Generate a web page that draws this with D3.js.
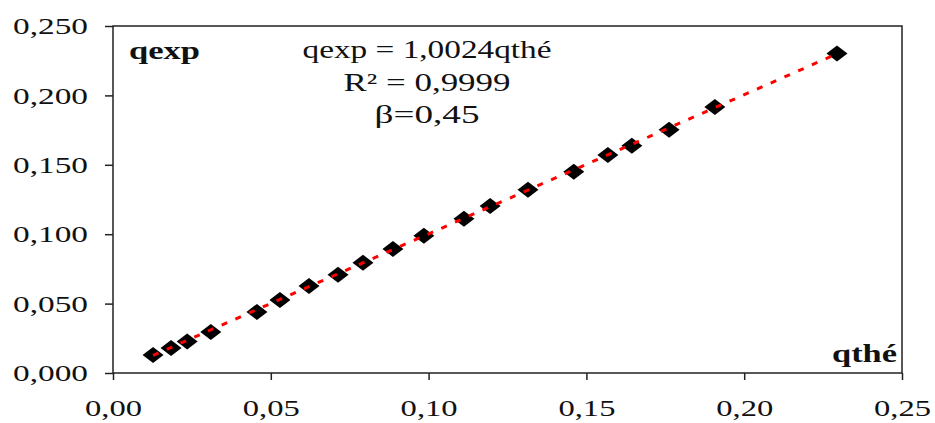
<!DOCTYPE html>
<html>
<head>
<meta charset="utf-8">
<script src="https://cdn.jsdelivr.net/npm/d3@7"></script>
<style>
  body { margin: 0; background: #fff; }
  svg text { font-family: "Liberation Serif", "Times New Roman", serif; fill: #111; }
</style>
</head>
<body>
<svg id="chart"></svg>
<script>
const qthe = [0.0127, 0.0184, 0.0235, 0.0310, 0.0456, 0.0529, 0.0621, 0.0713, 0.0792, 0.0887,
              0.0985, 0.1112, 0.1195, 0.1315, 0.1460, 0.1568, 0.1644, 0.1762, 0.1907, 0.2294];
const qexp = [0.0130, 0.0180, 0.0227, 0.0296, 0.0440, 0.0526, 0.0627, 0.0707, 0.0794, 0.0894,
              0.0988, 0.1111, 0.1204, 0.1320, 0.1450, 0.1570, 0.1637, 0.1752, 0.1917, 0.2302];
const slope = 1.0024;

const xTicks = [0, 0.05, 0.10, 0.15, 0.20, 0.25];
const xTickLabels = ['0,00', '0,05', '0,10', '0,15', '0,20', '0,25'];
const yTicks = [0, 0.05, 0.10, 0.15, 0.20, 0.25];
const yTickLabels = ['0,000', '0,050', '0,100', '0,150', '0,200', '0,250'];
const notes = ['qexp = 1,0024qthé', 'R\u00B2 = 0,9999', '\u03B2=0,45'];

const width = 935;
const height = 423;
const margin = {top: 26, right: 33, bottom: 50, left: 113};
const w = width - margin.left - margin.right;
const h = height - margin.top - margin.bottom;

const x = d3.scaleLinear().domain([0, 0.25]).range([0, w]);
const y = d3.scaleLinear().domain([0, 0.25]).range([h, 0]);

const svg = d3.select('#chart')
    .attr('width', width)
    .attr('height', height);

const chart = svg.append('g')
    .attr('transform', `translate(${margin.left},${margin.top})`);

// frame round the plot area
chart.append('rect')
    .attr('width', w)
    .attr('height', h)
    .attr('fill', 'none')
    .attr('stroke', '#222')
    .attr('stroke-width', 1.5);

const yAxis = d3.axisLeft(y)
    .tickValues(yTicks)
    .tickFormat((d, i) => yTickLabels[i])
    .tickSize(8)
    .tickPadding(17);

const xAxis = d3.axisBottom(x)
    .tickValues(xTicks)
    .tickFormat((d, i) => xTickLabels[i])
    .tickSize(7)
    .tickPadding(19);

function styleAxis(g, labelWidth) {
  g.attr('font-family', null).attr('font-size', null);
  g.select('.domain').remove();
  g.selectAll('.tick line').attr('stroke', '#222').attr('stroke-width', 1.5);
  g.selectAll('.tick text')
      .style('font-size', '24px')
      .attr('fill', '#111')
      .attr('textLength', labelWidth)
      .attr('lengthAdjust', 'spacingAndGlyphs');
}

chart.append('g')
    .attr('class', 'y axis')
    .call(yAxis)
    .call(g => styleAxis(g, 75));

chart.append('g')
    .attr('class', 'x axis')
    .attr('transform', `translate(0,${h})`)
    .call(xAxis)
    .call(g => styleAxis(g, 57));

// markers
const points = qthe.map((d, i) => ({x: d, y: qexp[i]}));

chart.selectAll('.dot')
    .data(points)
  .enter().append('path')
    .attr('class', 'dot')
    .attr('d', 'M0,-8L10.5,0L0,8L-10.5,0Z')
    .attr('transform', d => `translate(${x(d.x)},${y(d.y)})`)
    .attr('fill', '#000');

// linear trend line through the origin
const xr = d3.extent(qthe);
const line = d3.line()
    .x(d => x(d))
    .y(d => y(slope * d));

chart.append('path')
    .datum(xr)
    .attr('d', line)
    .attr('fill', 'none')
    .attr('stroke', '#ff0000')
    .attr('stroke-width', 3)
    .attr('stroke-dasharray', '6,9');

// axis titles
chart.append('text')
    .attr('x', 129 - margin.left)
    .attr('y', 59 - margin.top)
    .style('font-size', '26px')
    .style('font-weight', 'bold')
    .attr('textLength', 71)
    .attr('lengthAdjust', 'spacingAndGlyphs')
    .text('qexp');

chart.append('text')
    .attr('x', 832 - margin.left)
    .attr('y', 362 - margin.top)
    .style('font-size', '26px')
    .style('font-weight', 'bold')
    .attr('textLength', 65)
    .attr('lengthAdjust', 'spacingAndGlyphs')
    .text('qthé');

// regression notes, centred as one block
const noteLayout = [
  {y: 58, len: 249},
  {y: 91, len: 167},
  {y: 123, len: 105}
];

chart.selectAll('.note')
    .data(notes)
  .enter().append('text')
    .attr('class', 'note')
    .attr('x', 427 - margin.left)
    .attr('y', (d, i) => noteLayout[i].y - margin.top)
    .attr('text-anchor', 'middle')
    .style('font-size', '25px')
    .attr('textLength', (d, i) => noteLayout[i].len)
    .attr('lengthAdjust', 'spacingAndGlyphs')
    .text(d => d);
</script>
</body>
</html>
